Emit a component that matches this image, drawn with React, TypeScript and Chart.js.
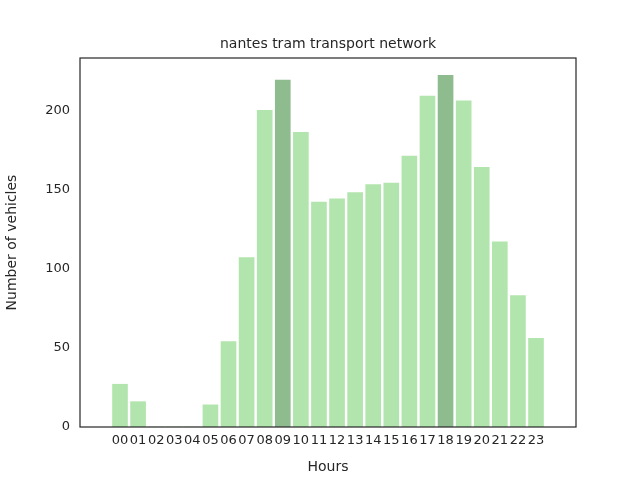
import React, { useEffect, useRef } from "react";
import { Chart, registerables } from "chart.js";
Chart.register(...registerables);

const hours = ["00","01","02","03","04","05","06","07","08","09","10","11","12","13","14","15","16","17","18","19","20","21","22","23"];
const vehicles = [27,16,0,0,0,14,54,107,200,219,186,142,144,148,153,154,171,209,222,206,164,117,83,56];
const highlighted = ["09","18"];
const yTicks = [0,50,100,150,200];

const FONT = "'DejaVu Sans', sans-serif";

export default function App() {
  const ref = useRef<HTMLCanvasElement>(null);
  useEffect(() => {
    document.body.style.margin = "0";
    const border = {
      id: "border",
      afterDraw(c: any) {
        const { ctx, chartArea: a } = c;
        ctx.save();
        ctx.strokeStyle = "#262626";
        ctx.lineWidth = 1.2;
        ctx.strokeRect(a.left, a.top, a.right - a.left, a.bottom - a.top);
        ctx.fillStyle = "#262626";
        ctx.font = "14px " + FONT;
        ctx.textAlign = "center";
        ctx.textBaseline = "bottom";
        ctx.fillText("nantes tram transport network", (a.left + a.right) / 2, a.top - 7);
        ctx.restore();
      },
    };
    const chart = new Chart(ref.current!, {
      type: "bar",
      data: {
        datasets: [{
          data: vehicles.map((v, i) => ({ x: i, y: v })),
          backgroundColor: hours.map(h => highlighted.includes(h) ? "#8fbc8f" : "#b2e5ad"),
          barThickness: 15,
        }],
      },
      options: {
        animation: false,
        responsive: false,
        layout: { padding: { top: 58, right: 64, left: 0, bottom: 0 } },
        plugins: { legend: { display: false }, tooltip: { enabled: false }, title: { display: false } },
        scales: {
          x: {
            type: "linear", min: -1.64, max: 24.64,
            grid: { display: false, drawTicks: false }, border: { display: false },
            afterBuildTicks: (s: any) => { s.ticks = hours.map((_, i) => ({ value: i })); },
            afterFit: (s: any) => { s.height = 53; },
            ticks: { color: "#262626", font: { family: FONT, size: 13 }, padding: 6, maxRotation: 0, autoSkip: false,
              callback: (v: any) => hours[v] ?? "" },
            title: { display: true, text: "Hours", color: "#262626", font: { family: FONT, size: 14 }, padding: { top: 2 } },
          },
          y: {
            min: 0, max: 233,
            grid: { display: false, drawTicks: false }, border: { display: false },
            afterBuildTicks: (s: any) => { s.ticks = yTicks.map(v => ({ value: v })); },
            afterFit: (s: any) => { s.width = 80; },
            ticks: { color: "#262626", font: { family: FONT, size: 13 }, padding: 10 },
            title: { display: true, text: "Number of vehicles", color: "#262626", font: { family: FONT, size: 14 } },
          },
        },
      },
      plugins: [border],
    } as any);
    return () => chart.destroy();
  }, []);
  return <canvas ref={ref} width={640} height={480} style={{ display: "block" }} />;
}
